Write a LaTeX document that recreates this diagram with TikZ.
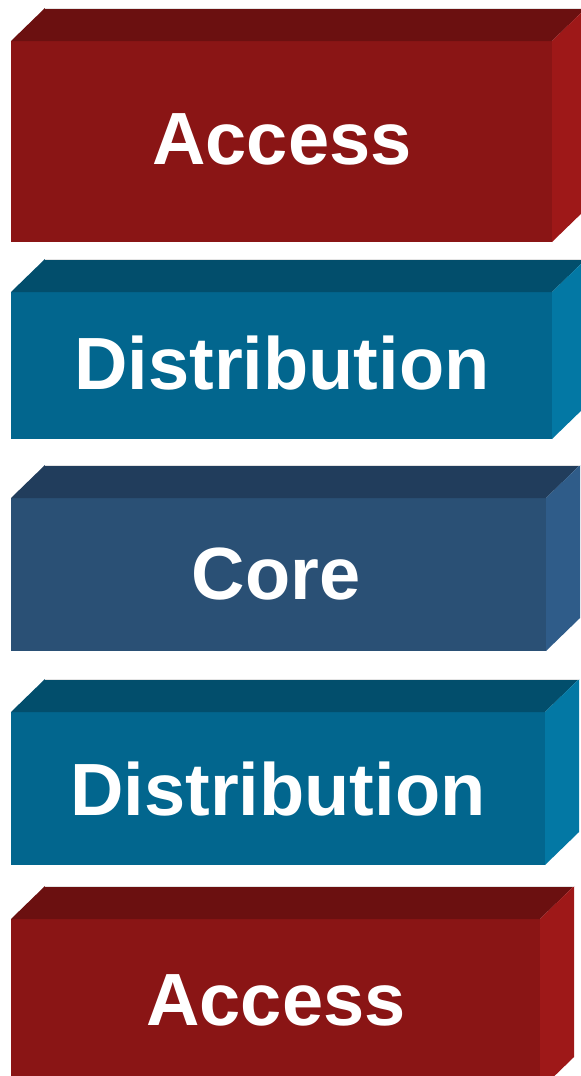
\documentclass[tikz,border=0pt]{standalone}
\usepackage{fontspec}
\setmainfont{Liberation Sans}
\usepackage{tikz}
\usetikzlibrary{calc}
\definecolor{accfront}{HTML}{8A1515}
\definecolor{acctop}{HTML}{6B1010}
\definecolor{accside}{HTML}{9E1818}
\definecolor{distfront}{HTML}{02668E}
\definecolor{disttop}{HTML}{024E6C}
\definecolor{distside}{HTML}{0378A4}
\definecolor{corefront}{HTML}{2A5075}
\definecolor{coretop}{HTML}{213D5C}
\definecolor{coreside}{HTML}{2F5C89}
\tikzset{
  lab/.style={text=white, font=\fontsize{37}{37}\selectfont\bfseries, inner sep=0pt},
  rim/.style={draw=white!80!gray, line width=0.4pt},
}

\begin{document}
\begin{tikzpicture}[x=0.5pt, y=-0.5pt]
  \useasboundingbox (0,0) rectangle (581,1076);
  \clip (0,0) rectangle (581,1076);

  % front faces: top-left (a) and bottom-right (b)
  \coordinate (a1) at (11,41);  \coordinate (b1) at (552,242);
  \coordinate (a2) at (11,292); \coordinate (b2) at (552,439);
  \coordinate (a3) at (11,498); \coordinate (b3) at (546,651);
  \coordinate (a4) at (11,712); \coordinate (b4) at (545,865);
  \coordinate (a5) at (11,919); \coordinate (b5) at (540,1090);

  % access (top)
  \fill[accfront] (a1) rectangle (b1);
  \fill[acctop] (a1) -- ++(34,-33) -- ($(b1|-a1)+(34,-33)$) -- (b1|-a1) -- cycle;
  \fill[accside] (b1|-a1) -- ++(34,-33) -- ($(b1)+(34,-33)$) -- (b1) -- cycle;
  \draw[rim] ($(a1)+(34,-33)$) -- ($(b1|-a1)+(34,-33)$);

  % distribution (upper)
  \fill[distfront] (a2) rectangle (b2);
  \fill[disttop] (a2) -- ++(34,-33) -- ($(b2|-a2)+(34,-33)$) -- (b2|-a2) -- cycle;
  \fill[distside] (b2|-a2) -- ++(34,-33) -- ($(b2)+(34,-33)$) -- (b2) -- cycle;
  \draw[rim] ($(a2)+(34,-33)$) -- ($(b2|-a2)+(34,-33)$);

  % core
  \fill[corefront] (a3) rectangle (b3);
  \fill[coretop] (a3) -- ++(34,-33) -- ($(b3|-a3)+(34,-33)$) -- (b3|-a3) -- cycle;
  \fill[coreside] (b3|-a3) -- ++(34,-33) -- ($(b3)+(34,-33)$) -- (b3) -- cycle;
  \draw[rim] ($(a3)+(34,-33)$) -- ($(b3|-a3)+(34,-33)$);

  % distribution (lower)
  \fill[distfront] (a4) rectangle (b4);
  \fill[disttop] (a4) -- ++(34,-33) -- ($(b4|-a4)+(34,-33)$) -- (b4|-a4) -- cycle;
  \fill[distside] (b4|-a4) -- ++(34,-33) -- ($(b4)+(34,-33)$) -- (b4) -- cycle;
  \draw[rim] ($(a4)+(34,-33)$) -- ($(b4|-a4)+(34,-33)$);

  % access (bottom)
  \fill[accfront] (a5) rectangle (b5);
  \fill[acctop] (a5) -- ++(34,-33) -- ($(b5|-a5)+(34,-33)$) -- (b5|-a5) -- cycle;
  \fill[accside] (b5|-a5) -- ++(34,-33) -- ($(b5)+(34,-33)$) -- (b5) -- cycle;
  \draw[rim] ($(a5)+(34,-33)$) -- ($(b5|-a5)+(34,-33)$);

  \node[lab] (access1) at (282,139) {Access};
  \node[lab] (dist1) at (282,363) {Distribution};
  \node[lab] (core) at (276,574) {Core};
  \node[lab] (dist2) at (278,789) {Distribution};
  \node[lab] (access2) at (276,1000) {Access};
\end{tikzpicture}
\end{document}
